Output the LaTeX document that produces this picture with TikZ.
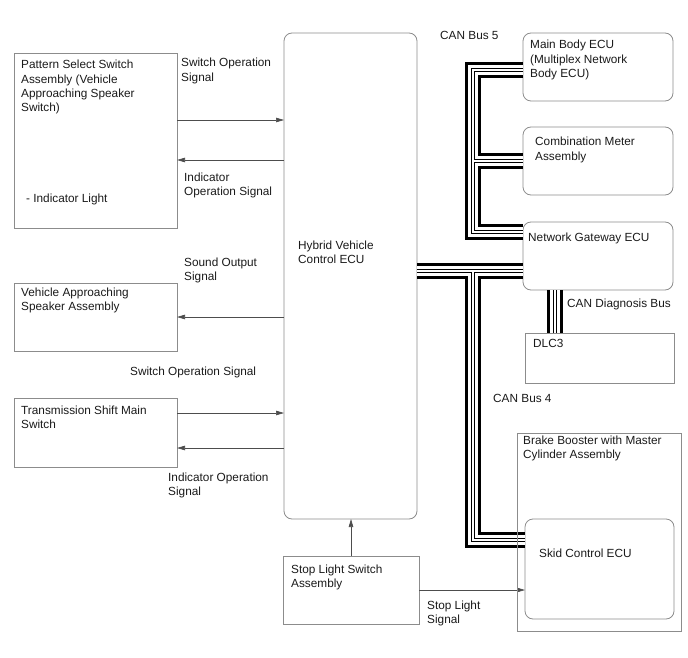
\documentclass[tikz,border=0pt]{standalone}
\usepackage{fontspec}
\setmainfont{Liberation Sans}
\usetikzlibrary{arrows.meta,positioning}
\definecolor{boxline}{HTML}{8C8C8C}
\definecolor{sigline}{HTML}{4D4D4D}
\definecolor{figink}{HTML}{1A1A1A}
\newcommand{\stacked}[1]{\begin{tabular}[t]{@{}l@{}}#1\end{tabular}}

\begin{document}
\begin{tikzpicture}[
    x=1pt, y=-1pt,
    every node/.style={font=\fontsize{11.8}{14.3}\selectfont, text=figink},
    box/.style={draw=boxline, line width=0.8pt, inner sep=0pt, outer sep=0pt, anchor=north west},
    ecu/.style={box, rounded corners=8pt},
    txt/.style={anchor=base west, inner sep=0pt},
    sig/.style={-{Triangle[length=8pt,width=4.5pt]}, sigline, line width=0.7pt},
  ]
  \useasboundingbox (0,0) rectangle (688,658);

  % left column
  \node[box, minimum width=163, minimum height=175] (pss) at (14,53) {};
  \node[txt] at ([shift={(7,16)}]pss.north west)
    {\stacked{Pattern Select Switch\\Assembly (Vehicle\\Approaching Speaker\\Switch)}};
  \node[txt] at ([shift={(12,149)}]pss.north west) {- Indicator Light};
  \node[box, minimum width=163, minimum height=68] (vas) at (14,283) {};
  \node[txt] at ([shift={(7,13)}]vas.north west) {\stacked{Vehicle Approaching\\Speaker Assembly}};
  \node[box, minimum width=163, minimum height=69] (tsm) at (14,398) {};
  \node[txt] at ([shift={(7,16)}]tsm.north west) {\stacked{Transmission Shift Main\\Switch}};

  % centre
  \node[ecu, minimum width=133, minimum height=486] (hv) at (284,33) {};
  \node[txt] at ([shift={(14,216)}]hv.north west) {\stacked{Hybrid Vehicle\\Control ECU}};
  \node[box, minimum width=136, minimum height=68] (sls) at (283,556) {};
  \node[txt] at ([shift={(8,17)}]sls.north west) {\stacked{Stop Light Switch\\Assembly}};

  % right column
  \node[ecu, minimum width=150, minimum height=68] (mb) at (523,33) {};
  \node[txt] at ([shift={(7,16)}]mb.north west) {\stacked{Main Body ECU\\(Multiplex Network\\Body ECU)}};
  \node[ecu, minimum width=150, minimum height=68] (cm) at (523,127) {};
  \node[txt] at ([shift={(12,19)}]cm.north west) {\stacked{Combination Meter\\Assembly}};
  \node[ecu, minimum width=150, minimum height=68] (gw) at (523,222) {};
  \node[txt] at ([shift={(5,19)}]gw.north west) {Network Gateway ECU};
  \node[box, minimum width=149, minimum height=50] (dlc) at (525,333) {};
  \node[txt] at ([shift={(8,14)}]dlc.north west) {DLC3};
  \node[ecu, minimum width=149, minimum height=100] (sc) at (525,519) {};
  \node[txt] at ([shift={(14,38)}]sc.north west) {Skid Control ECU};

  % signal arrows
  \draw[sig] ([yshift=-67]pss.north east) -- ([yshift=-67]pss.north east -| hv.west);
  \draw[sig] ([yshift=-107]pss.north east -| hv.west) -- ([yshift=-107]pss.north east);
  \draw[sig] (vas.east -| hv.west) -- (vas.east);
  \draw[sig] ([yshift=-15]tsm.north east) -- ([yshift=-15]tsm.north east -| hv.west);
  \draw[sig] ([yshift=-50]tsm.north east -| hv.west) -- ([yshift=-50]tsm.north east);
  \draw[sig] (sls.north) -- (sls.north |- hv.south);
  \draw[sig] (sls.east) -- (sls.east -| sc.west);

  \node[txt] at ([shift={(4,14)}]pss.north east) {\stacked{Switch Operation\\Signal}};
  \node[txt] at ([shift={(7,128)}]pss.north east) {\stacked{Indicator\\Operation Signal}};
  \node[txt] at ([shift={(7,-17)}]vas.north east) {\stacked{Sound Output\\Signal}};
  \node[txt] at ([shift={(-47,-23)}]tsm.north east) {Switch Operation Signal};
  \node[txt] at ([shift={(-9,14)}]tsm.south east) {\stacked{Indicator Operation\\Signal}};
  \node[txt] at ([shift={(8,19)}]sls.east) {\stacked{Stop Light\\Signal}};

  % CAN buses
  \coordinate (hvbus) at ([yshift=5]hv.east);
  \coordinate (gwbus) at (hvbus -| gw.west);
  \coordinate (trunk) at ([xshift=-50]gwbus);
  \coordinate (mbbus) at ([yshift=-3]mb.west);
  \coordinate (gw5) at ([yshift=24]gw.west);
  \coordinate (scbus) at ([yshift=29]sc.west);
  \coordinate (gwdiag) at ([xshift=-43]gw.south);
  \foreach \w/\c in {16/black,10/white,4/black,2/white}{
    \draw[line width=\w pt, \c, line join=miter]
      (mbbus) -- (mbbus -| trunk) -- (trunk |- gw5) -- (gw5)
      (cm.west -| trunk) -- (cm.west)
      (hvbus) -- (gwbus)
      (trunk) -- (trunk |- scbus) -- (scbus)
      (gwdiag) -- (gwdiag |- dlc.north);
  }

  \node[box, minimum width=164, minimum height=198] (bb) at (517,433) {};
  \node[txt] at ([shift={(6,11)}]bb.north west) {\stacked{Brake Booster with Master\\Cylinder Assembly}};

  \node[txt] at ([shift={(-83,7)}]mb.north west) {CAN Bus 5};
  \node[txt] at ([shift={(44,17)}]gw.south west) {CAN Diagnosis Bus};
  \node[txt] at ([shift={(-32,19)}]dlc.south west) {CAN Bus 4};
\end{tikzpicture}
\end{document}
